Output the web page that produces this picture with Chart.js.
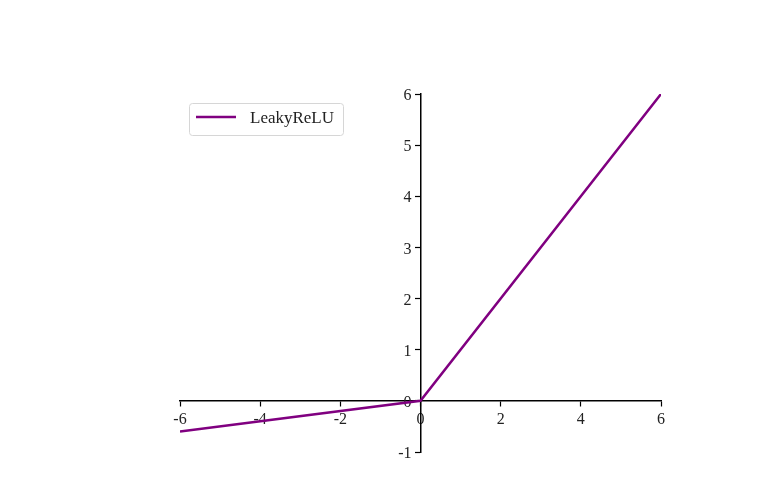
<!DOCTYPE html>
<html>
<head>
<meta charset="utf-8">
<script src="https://cdn.jsdelivr.net/npm/chart.js@4/dist/chart.umd.min.js"></script>
<style>
  html, body { margin: 0; padding: 0; background: #fff; }
  #wrap { width: 775px; height: 480px; position: relative; }
</style>
</head>
<body>
<div id="wrap"><canvas id="chart"></canvas></div>
<script>
// LeakyReLU sampled at the kink and the ends
const xValues = [-6, 0, 6];
const yValues = [-0.6, 0, 6];
const seriesLabel = 'LeakyReLU';
const xTicks = [-6, -4, -2, 0, 2, 4, 6];
const yTicks = [-1, 0, 1, 2, 3, 4, 5, 6];

const lineColor = '#800080';
const fontFamily = '"Liberation Serif", "DejaVu Serif", serif';

// legend box drawn in the top left of the plot, like matplotlib's "best" spot
const boxLegend = {
    id: 'boxLegend',
    afterDraw(chart) {
        const ctx = chart.ctx;
        const area = chart.chartArea;
        const x = area.left + 9, y = area.top + 9, w = 154, h = 32;
        ctx.save();
        ctx.fillStyle = 'rgba(255,255,255,0.8)';
        ctx.strokeStyle = '#d6d6d6';
        ctx.lineWidth = 1;
        ctx.beginPath();
        ctx.roundRect(x + 0.5, y + 0.5, w, h, 3);
        ctx.fill();
        ctx.stroke();
        ctx.strokeStyle = lineColor;
        ctx.lineWidth = 2.5;
        ctx.beginPath();
        ctx.moveTo(x + 7, y + 14);
        ctx.lineTo(x + 47, y + 14);
        ctx.stroke();
        ctx.fillStyle = '#222';
        ctx.font = '17px ' + fontFamily;
        ctx.textBaseline = 'middle';
        ctx.fillText(chart.data.datasets[0].label, x + 61, y + 16);
        ctx.restore();
    }
};

// y labels of a centred axis sit right on the spine, so nudge them left of the ticks
function shiftYLabels(s) {
    if (s._shifted) return;
    const orig = s.drawLabels.bind(s);
    s.drawLabels = area => {
        s.ctx.save();
        s.ctx.translate(-9, 2);
        orig(area);
        s.ctx.restore();
    };
    s._shifted = true;
}

const ctx = document.getElementById('chart').getContext('2d');
new Chart(ctx, {
    type: 'scatter',
    data: {
        datasets: [{
            label: seriesLabel,
            data: xValues.map((x, i) => ({ x: x, y: yValues[i] })),
            showLine: true,
            borderColor: lineColor,
            backgroundColor: lineColor,
            borderWidth: 2.5,
            pointRadius: 0,
            tension: 0
        }]
    },
    options: {
        responsive: true,
        maintainAspectRatio: false,
        animation: false,
        layout: { padding: { left: 180, right: 114, top: 94, bottom: 28 } },
        plugins: {
            legend: { display: false },
            tooltip: { enabled: false }
        },
        scales: {
            x: {
                type: 'linear',
                position: { y: 0 },
                min: -6,
                max: 6,
                afterFit: s => { s.height = 0; s.paddingLeft = 0; s.paddingRight = 0; },
                afterBuildTicks: s => { s.ticks = xTicks.map(v => ({ value: v })); },
                grid: { drawOnChartArea: false, tickLength: 5, tickColor: '#000', tickWidth: 1.2 },
                border: { color: '#000', width: 1.5 },
                ticks: {
                    color: '#222',
                    padding: 4,
                    maxRotation: 0,
                    font: { family: fontFamily, size: 16 }
                }
            },
            y: {
                type: 'linear',
                position: { x: 0 },
                min: -1,
                max: 6,
                afterFit: s => { s.width = 0; s.paddingTop = 0; s.paddingBottom = 0; shiftYLabels(s); },
                afterBuildTicks: s => { s.ticks = yTicks.map(v => ({ value: v })); },
                grid: { drawOnChartArea: false, tickLength: 5, tickColor: '#000', tickWidth: 1.2 },
                border: { color: '#000', width: 1.5 },
                ticks: {
                    color: '#222',
                    padding: 3,
                    font: { family: fontFamily, size: 16 }
                }
            }
        }
    },
    plugins: [boxLegend]
});
</script>
</body>
</html>
